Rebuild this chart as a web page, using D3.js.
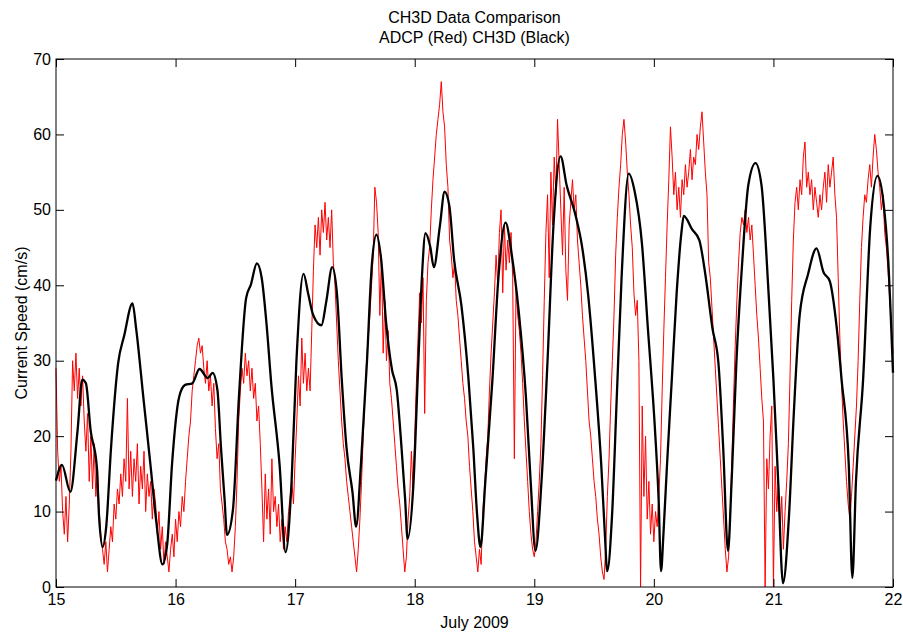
<!DOCTYPE html>
<html><head><meta charset="utf-8">
<script src="https://cdn.jsdelivr.net/npm/d3@7"></script>
<style>
body{margin:0;background:#fff}
svg{display:block}
text{font-family:Arial,"Liberation Sans",Helvetica,sans-serif}
</style>
</head><body>
<svg id="chart" width="903" height="636"></svg>
<script>
// ---- data ----
const titleLines = ["CH3D Data Comparison", "ADCP (Red) CH3D (Black)"];
const xLabel = "July 2009";
const yLabel = "Current Speed (cm/s)";
const xTicks = [15, 16, 17, 18, 19, 20, 21, 22];
const yTicks = [0, 10, 20, 30, 40, 50, 60, 70];

// CH3D model (black)
const ch3dTime = [
15.00,15.05,15.12,15.18,15.22,15.25,15.29,15.34,15.36,15.39,15.42,15.46,15.52,15.57,15.64,15.67,15.73,15.79,15.84,15.89,15.93,15.97,
16.03,16.08,16.14,16.20,16.27,16.31,16.35,16.38,16.41,16.43,16.48,16.53,16.59,16.63,16.68,16.72,16.76,16.80,16.87,16.92,16.97,
17.01,17.07,17.11,17.15,17.22,17.26,17.31,17.35,17.39,17.43,17.48,17.51,17.55,17.60,17.64,17.68,17.72,17.76,17.81,17.85,17.89,17.92,17.94,17.99,
18.03,18.06,18.09,18.13,18.16,18.21,18.25,18.29,18.33,18.39,18.45,18.49,18.52,18.55,18.59,18.65,18.70,18.76,18.81,18.87,18.93,18.97,
19.01,19.06,19.11,19.16,19.22,19.27,19.34,19.40,19.45,19.51,19.56,19.59,19.61,19.65,19.69,19.73,19.79,19.84,19.90,19.95,
20.01,20.04,20.06,20.08,20.11,20.15,20.19,20.23,20.25,20.32,20.38,20.43,20.49,20.54,20.58,20.62,20.65,20.69,20.74,20.79,20.85,20.90,20.96,
21.00,21.04,21.08,21.13,21.17,21.22,21.29,21.36,21.42,21.47,21.53,21.57,21.63,21.66,21.69,21.75,21.81,21.87,21.92,21.96,22.00];
const ch3dSpeed = [
14.1,16.2,12.6,20.7,27.5,27.0,20.7,16.2,9.4,5.3,8.0,18.4,29.7,33.3,37.6,34.3,25.2,16.2,8.5,3.0,5.7,16.2,
25.2,26.8,27.0,28.9,27.7,28.4,26.1,18.4,11.6,6.9,10.3,25.2,38.3,40.1,42.9,41.0,35.0,27.0,16.2,4.6,13.9,
29.7,41.5,38.8,36.1,34.7,37.8,42.4,38.8,27.5,18.4,12.5,8.0,16.2,29.7,42.4,46.7,43.3,35.2,28.8,26.1,18.4,11.6,6.4,13.9,
29.7,41.0,46.9,45.1,42.4,47.8,52.4,50.5,43.3,37.4,27.5,18.4,10.0,5.3,13.9,27.5,41.0,48.3,44.2,36.5,25.2,13.9,
4.8,13.9,29.7,47.8,57.1,53.3,49.6,45.1,38.8,27.5,16.2,7.1,2.1,9.4,25.2,41.0,54.8,52.4,45.6,34.3,
20.7,11.6,2.1,7.0,16.2,27.5,38.8,46.9,49.2,47.4,46.0,41.5,34.3,29.7,18.4,4.8,13.9,29.7,43.3,53.3,56.2,53.3,38.8,
27.5,13.9,0.5,9.4,22.9,36.1,41.5,44.9,41.7,40.6,34.3,27.5,16.2,1.2,13.9,27.5,47.8,54.5,51.0,43.3,28.4];

// ADCP observations (red), one value every 20 minutes from July 15 00:00
const adcpStart = 15;
const adcpStepDays = 1 / 72;
const adcpSpeed = [
// Jul 15
29,18,14,16,10,7,12,6,11,
18,30,26,31,25,29,24,28,22,
18,23,14,20,13,19,12,16,10,
7,5,3,6,2,5,8,6,11,
9,13,11,15,12,17,14,25,13,
18,12,17,14,19,11,16,13,18,
10,15,12,14,9,13,11,7,10,
5,8,3,6,4,2,5,7,4,
// Jul 16
9,6,10,8,12,10,14,17,20,
22,26,28,30,32,33,31,32,29,
27,30,26,28,24,27,21,17,19,
13,11,9,6,5,3,4,2,4,
8,14,22,26,29,27,31,28,30,
26,29,25,27,22,24,19,13,6,
15,9,13,7,17,10,12,8,11,
6,9,5,8,6,10,12,14,11,
// Jul 17
17,22,28,24,33,27,31,26,29,
26,34,42,48,45,49,44,50,47,
51,46,49,45,50,43,40,35,30,
26,22,19,17,14,12,10,8,6,
4,2,5,9,14,20,25,30,33,
36,40,44,53,51,47,36,44,31,
38,30,34,27,25,22,19,16,13,
11,8,5,2,4,9,12,18,13,
// Jul 18
20,27,33,39,35,41,23,38,43,
45,50,54,57,60,62,64,67,63,
61,56,53,46,44,41,43,38,36,
33,30,27,25,22,20,16,13,10,
6,4,2,5,3,10,13,17,20,
26,31,35,39,44,40,47,50,39,
48,42,46,43,47,41,17,40,36,
34,31,27,22,18,14,10,7,5,
// Jul 19
4,6,10,14,19,28,38,47,52,
41,55,48,57,52,62,56,50,44,
53,42,38,48,51,54,50,52,46,
43,40,36,33,30,26,22,20,17,
14,12,9,7,4,2,1,5,12,
17,24,30,36,44,49,53,56,60,
62,59,55,52,48,45,39,36,38,
30,0,24,12,20,9,14,7,11,
// Jul 20
6,10,8,12,17,26,34,41,48,
54,61,57,52,55,50,53,49,54,
52,56,53,55,58,54,57,56,60,
58,61,63,59,55,52,43,41,37,
33,29,25,21,17,13,9,5,2,
4,10,17,25,32,38,43,47,49,
48,50,47,49,46,48,44,40,36,
33,29,25,22,0,17,13,20,24,
// Jul 21
0,16,10,14,7,12,5,10,14,
19,28,38,46,51,53,50,54,52,
57,59,53,55,52,54,50,53,51,
49,52,50,53,55,51,56,53,55,
57,52,49,41,33,27,22,18,14,
11,9,12,16,20,24,30,38,45,
49,52,51,54,56,53,57,60,58,
55,53,50,52,47,45,42,38,35,
// Jul 22
31];

// ---- layout ----
const W = 903, H = 636;
const m = {left: 56, right: 10, top: 59, bottom: 49};
const svg = d3.select("#chart");
const x = d3.scaleLinear().domain([xTicks[0], xTicks[xTicks.length-1]]).range([m.left, W - m.right]);
const y = d3.scaleLinear().domain([yTicks[0], yTicks[yTicks.length-1]]).range([H - m.bottom, m.top]);

svg.append("rect").attr("width", W).attr("height", H).attr("fill", "#fff");

// lines
const adcpData = adcpSpeed.map((v, i) => ({t: adcpStart + i * adcpStepDays, v}));
const ch3dData = ch3dTime.map((t, i) => ({t, v: ch3dSpeed[i]}));

svg.append("path").datum(adcpData)
  .attr("fill", "none").attr("stroke", "#ff0000").attr("stroke-width", 1)
  .attr("d", d3.line().x(d => x(d.t)).y(d => y(d.v)));

svg.append("path").datum(ch3dData)
  .attr("fill", "none").attr("stroke", "#000").attr("stroke-width", 2.3)
  .attr("stroke-linejoin", "round")
  .attr("d", d3.line().curve(d3.curveMonotoneX).x(d => x(d.t)).y(d => y(d.v)));

// axes (MATLAB style, inward ticks on all sides)
const tickLen = 8;
const fs = "16px";
const gB = svg.append("g").attr("transform", `translate(0,${y(0)})`)
  .call(d3.axisBottom(x).tickValues(xTicks).tickFormat(d3.format("d")).tickSizeInner(-tickLen).tickSizeOuter(0).tickPadding(7));
const gL = svg.append("g").attr("transform", `translate(${x(15)},0)`)
  .call(d3.axisLeft(y).tickValues(yTicks).tickFormat(d3.format("d")).tickSizeInner(-tickLen).tickSizeOuter(0).tickPadding(5));
const gT = svg.append("g").attr("transform", `translate(0,${y(70)})`)
  .call(d3.axisTop(x).tickValues(xTicks).tickFormat("").tickSizeInner(-tickLen).tickSizeOuter(0));
const gR = svg.append("g").attr("transform", `translate(${x(22)},0)`)
  .call(d3.axisRight(y).tickValues(yTicks).tickFormat("").tickSizeInner(-tickLen).tickSizeOuter(0));
[gB, gL, gT, gR].forEach(g => {
  g.select(".domain").remove();
  g.selectAll(".tick line").attr("stroke", "#000");
  g.selectAll("text").attr("font-size", fs).attr("font-family", "Arial, 'Liberation Sans', sans-serif").attr("fill", "#000");
});

svg.append("rect")
  .attr("x", x(15)).attr("y", y(70))
  .attr("width", x(22) - x(15)).attr("height", y(0) - y(70))
  .attr("fill", "none").attr("stroke", "#000").attr("stroke-width", 1);

// titles
const cx = (x(15) + x(22)) / 2;
svg.append("text").attr("x", cx).attr("y", 23).attr("text-anchor", "middle").attr("font-size", fs).text(titleLines[0]);
svg.append("text").attr("x", cx).attr("y", 43).attr("text-anchor", "middle").attr("font-size", fs).text(titleLines[1]);
svg.append("text").attr("x", cx).attr("y", 628).attr("text-anchor", "middle").attr("font-size", fs).text(xLabel);
svg.append("text").attr("transform", `translate(27,${(y(0) + y(70)) / 2}) rotate(-90)`)
  .attr("text-anchor", "middle").attr("font-size", fs).text(yLabel);
</script>
</body></html>
